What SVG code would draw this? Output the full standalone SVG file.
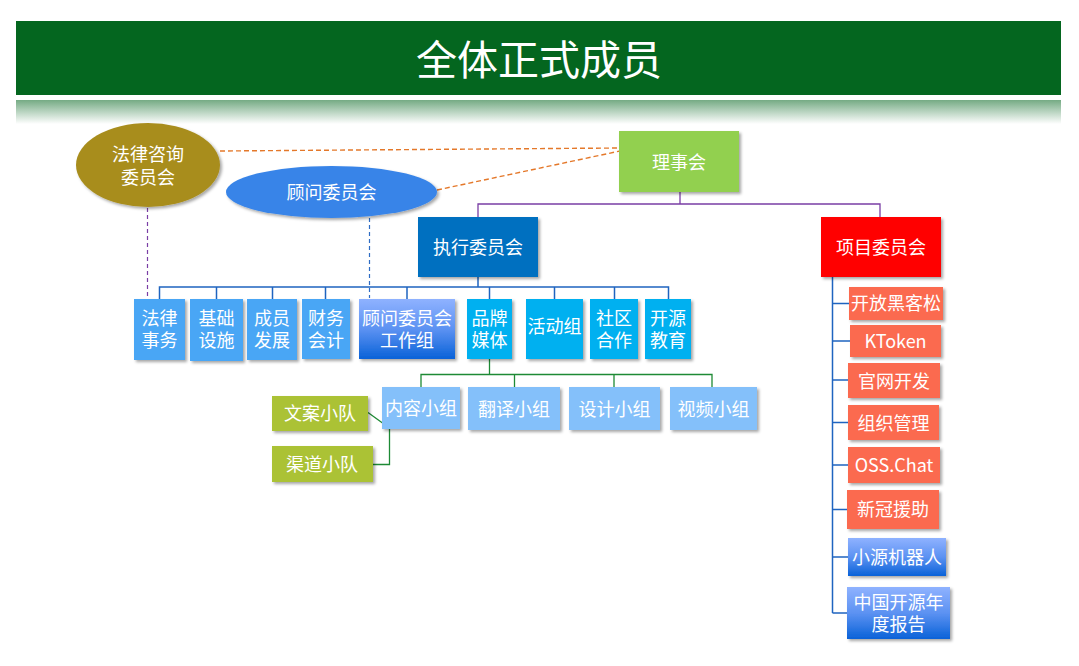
<svg xmlns="http://www.w3.org/2000/svg" width="1079" height="666" viewBox="0 0 1079 666">
<style>
text{font-family:"Noto Sans CJK SC","Microsoft YaHei",sans-serif;fill:#fff;font-size:18px;text-anchor:middle;dominant-baseline:central}
.title{font-size:41px}
.sh{filter:url(#shadow)}
.c1{fill:#4AA6F5}
.c2{fill:#00B0F0}
.c3{fill:#84C0FA}
.c4{fill:#ABC236}
.c5{fill:#FB6A4F}
.cg{fill:url(#blueGrad)}
.lnB{stroke:#1F64C0;stroke-width:1.5;fill:none}
.lnP{stroke:#7A3EA5;stroke-width:1.3;fill:none}
.lnG{stroke:#1E8A35;stroke-width:1.3;fill:none}
.dO{stroke:#E4782A;stroke-width:1.4;stroke-dasharray:5 3;fill:none}
.dP{stroke:#7A3EA5;stroke-width:1.2;stroke-dasharray:4 3;fill:none}
.dB{stroke:#2E6CC4;stroke-width:1.2;stroke-dasharray:4 3;fill:none}
</style>
<defs>
<filter id="shadow" x="-20%" y="-20%" width="150%" height="150%">
<feDropShadow dx="2" dy="2" stdDeviation="1.5" flood-color="#000" flood-opacity="0.35"/>
</filter>
<linearGradient id="blueGrad" x1="0" y1="0" x2="0" y2="1">
<stop offset="0" stop-color="#8FB2FF"/>
<stop offset="0.5" stop-color="#5C92F2"/>
<stop offset="1" stop-color="#0A62D8"/>
</linearGradient>
<linearGradient id="refl" x1="0" y1="0" x2="0" y2="1">
<stop offset="0" stop-color="#04661F" stop-opacity="0.55"/>
<stop offset="1" stop-color="#04661F" stop-opacity="0"/>
</linearGradient>
</defs>
<rect width="1079" height="666" fill="#fff"/>
<g id="banner">
<rect x="16" y="21" width="1045" height="74" fill="#04661F"/>
<rect x="16" y="100" width="1045" height="24" fill="url(#refl)"/>
<text class="title" x="539" y="57">全体正式成员</text>
</g>
<g id="connectors">
<path class="dO" d="M220 151 L620 148"/>
<path class="dO" d="M437 190 L620 151"/>
<path class="dP" d="M147.5 208 V298"/>
<path class="dB" d="M369.5 218 V298"/>
<path class="lnP" d="M680 192 V204 M478 217 V204 H880 V217"/>
<path class="lnB" d="M478 277 V287 M159.5 299 V287 H668.5 V299 M216.5 287 V299 M272.5 287 V299 M325.5 287 V299 M407 287 V299 M489.5 287 V299 M554.5 287 V299 M614.5 287 V299"/>
<path class="lnG" d="M489.5 359 V374.5 M421 387 V374.5 H712 V387 M514.5 374.5 V387 M614 374.5 V387"/>
<path class="lnG" d="M368 412.5 L382.5 423 M373 464.5 H389.5 V429"/>
<path class="lnB" d="M832.5 277 V613 M832.5 303.5 H849 M832.5 341 H850 M832.5 380 H848 M832.5 422.5 H848 M832.5 465 H848 M832.5 509.5 H847 M832.5 557 H848 M832.5 613 H847"/>
</g>
<g id="n-legal-advisory"><ellipse class="sh" cx="148" cy="165" rx="72" ry="42" fill="#A88D1E"/><text x="148" y="153">法律咨询<tspan x="148" dy="23">委员会</tspan></text></g>
<g id="n-advisory"><ellipse class="sh" cx="331.5" cy="192" rx="105.5" ry="26" fill="#3884E8"/><text x="331.5" y="191">顾问委员会</text></g>
<g id="n-board"><rect class="sh" x="619" y="131" width="120" height="61" fill="#92D050"/><text x="679" y="160.5">理事会</text></g>
<g id="n-exec"><rect class="sh" x="418" y="217" width="120" height="60" fill="#0070C0"/><text x="478" y="246">执行委员会</text></g>
<g id="n-project"><rect class="sh" x="821" y="217" width="120" height="60" fill="#FF0000"/><text x="881" y="246">项目委员会</text></g>
<g id="n-legal"><rect class="sh c1" x="134" y="299" width="51" height="61"/><text x="159.5" y="317">法律<tspan x="159.5" dy="22">事务</tspan></text></g>
<g id="n-infra"><rect class="sh c1" x="190" y="299" width="53" height="62"/><text x="216.5" y="317">基础<tspan x="216.5" dy="22">设施</tspan></text></g>
<g id="n-member"><rect class="sh c1" x="247" y="299" width="50" height="61"/><text x="272" y="317">成员<tspan x="272" dy="22">发展</tspan></text></g>
<g id="n-finance"><rect class="sh c1" x="302" y="299" width="48" height="60"/><text x="326" y="317">财务<tspan x="326" dy="22">会计</tspan></text></g>
<g id="n-advisory-wg"><rect class="sh cg" x="359" y="299" width="96" height="60"/><text x="407" y="317">顾问委员会<tspan x="407" dy="22">工作组</tspan></text></g>
<g id="n-brand"><rect class="sh c2" x="467" y="299" width="45" height="60"/><text x="489.5" y="317">品牌<tspan x="489.5" dy="22">媒体</tspan></text></g>
<g id="n-events"><rect class="sh c2" x="526" y="299" width="57" height="60"/><text x="554.5" y="325">活动组</text></g>
<g id="n-community"><rect class="sh c2" x="590" y="299" width="48" height="60"/><text x="614" y="317">社区<tspan x="614" dy="22">合作</tspan></text></g>
<g id="n-education"><rect class="sh c2" x="645" y="299" width="46" height="60"/><text x="668" y="317">开源<tspan x="668" dy="22">教育</tspan></text></g>
<g id="n-content"><rect class="sh c3" x="382" y="387" width="78" height="42"/><text x="421" y="407">内容小组</text></g>
<g id="n-translate"><rect class="sh c3" x="468" y="387" width="92" height="43"/><text x="514" y="407.5">翻译小组</text></g>
<g id="n-design"><rect class="sh c3" x="569" y="387" width="91" height="43"/><text x="614.5" y="407.5">设计小组</text></g>
<g id="n-video"><rect class="sh c3" x="670" y="387" width="87" height="43"/><text x="713.5" y="407.5">视频小组</text></g>
<g id="n-copy"><rect class="sh c4" x="272" y="396" width="96" height="35"/><text x="320" y="412">文案小队</text></g>
<g id="n-channel"><rect class="sh c4" x="272" y="446" width="101" height="36"/><text x="322" y="463">渠道小队</text></g>
<g id="n-hackathon"><rect class="sh c5" x="849" y="287" width="94" height="33"/><text x="896" y="302">开放黑客松</text></g>
<g id="n-ktoken"><rect class="sh c5" x="850" y="325" width="91" height="32"/><text x="895.5" y="340">KToken</text></g>
<g id="n-website"><rect class="sh c5" x="848" y="363" width="92" height="35"/><text x="894" y="379.5">官网开发</text></g>
<g id="n-org"><rect class="sh c5" x="848" y="405" width="91" height="35"/><text x="893.5" y="421.5">组织管理</text></g>
<g id="n-osschat"><rect class="sh c5" x="848" y="447" width="92" height="36"/><text x="894" y="464">OSS.Chat</text></g>
<g id="n-covid"><rect class="sh c5" x="847" y="490" width="92" height="39"/><text x="893" y="508">新冠援助</text></g>
<g id="n-robot"><rect class="sh cg" x="848" y="538" width="98" height="38"/><text x="897" y="556">小源机器人</text></g>
<g id="n-report"><rect class="sh cg" x="847" y="587" width="103" height="52"/><text x="898.5" y="601">中国开源年<tspan x="898.5" dy="22">度报告</tspan></text></g>
</svg>
